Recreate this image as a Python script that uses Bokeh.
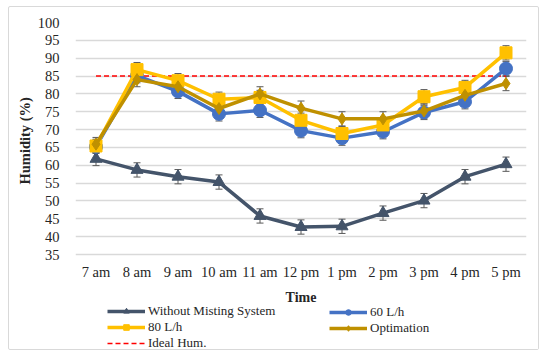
from bokeh.plotting import figure
from bokeh.models import (ColumnDataSource, Whisker, Legend, LegendItem, FixedTicker, Range1d,
                          TeeHead, Title)
from bokeh.embed import file_html
from bokeh.resources import INLINE

times = ["7 am", "8 am", "9 am", "10 am", "11 am", "12 pm", "1 pm", "2 pm", "3 pm", "4 pm", "5 pm"]
without = [61.8, 58.7, 56.8, 55.3, 45.8, 42.7, 42.9, 46.6, 50.1, 56.8, 60.3]
l60 = [65.2, 85.1, 80.7, 74.4, 75.4, 69.7, 67.6, 69.4, 74.8, 77.8, 87.1]
l80 = [65.4, 86.8, 83.7, 78.5, 79.0, 72.6, 68.9, 71.3, 79.2, 81.8, 91.5]
optim = [65.9, 84.0, 82.0, 75.9, 80.0, 76.0, 73.0, 73.0, 75.2, 79.6, 82.9]
ideal = [85] * 11
err = [1.9, 2.0, 2.0, 2.0, 2.0, 2.0, 2.0, 2.0, 2.0, 2.0, 2.0]
yticks = list(range(35, 101, 5))

FONT = "Liberation Serif"
Y_MIN, Y_MAX = 35, 100
# frame extends below the lowest tick to hold the axis and legend
ppu = 232 / (Y_MAX - Y_MIN)
frame_h = 344 - 15
y_lo = Y_MAX - frame_h / ppu

p = figure(x_range=times, y_range=Range1d(y_lo, Y_MAX), width=531, height=344,
           output_backend="svg", toolbar_location=None,
           min_border_left=66, min_border_right=14, min_border_top=15, min_border_bottom=0)
p.margin = (6, 0, 0, 8)
p.styles = {"border": "1px solid #d9d9d9", "border-radius": "2px"}
p.outline_line_color = None
p.xgrid.grid_line_color = None
p.ygrid.grid_line_color = "#d9d9d9"
p.ygrid.grid_line_width = 1.3
p.yaxis.ticker = FixedTicker(ticks=yticks)
for ax in (p.xaxis[0], p.yaxis[0]):
    ax.axis_line_color = None
    ax.major_tick_line_color = None
    ax.minor_tick_line_color = None
    ax.major_label_text_font = FONT
    ax.major_label_text_font_size = "14.5px"
    ax.major_label_text_color = "#262626"
    ax.axis_label_text_font = FONT
    ax.axis_label_text_font_style = "bold"
    ax.axis_label_text_font_size = "14px"
    ax.axis_label_text_color = "#262626"
p.xaxis.fixed_location = Y_MIN
p.xaxis.axis_label = "Time"
p.xaxis.major_label_standoff = 3
p.xaxis.axis_label_standoff = 7
p.yaxis.major_label_standoff = 10

ytitle = Title(text="Humidity (%)", align="left", offset=167, text_font=FONT, text_font_style="bold",
               text_font_size="14.5px", text_color="#262626", standoff=4)
p.add_layout(ytitle, "left")

src = ColumnDataSource(dict(t=times, without=without, l60=l60, l80=l80, optim=optim, ideal=ideal,
                            wl=[a - e for a, e in zip(without, err)], wu=[a + e for a, e in zip(without, err)],
                            al=[a - e for a, e in zip(l60, err)], au=[a + e for a, e in zip(l60, err)],
                            bl=[a - e for a, e in zip(l80, err)], bu=[a + e for a, e in zip(l80, err)],
                            cl=[a - e for a, e in zip(optim, err)], cu=[a + e for a, e in zip(optim, err)]))

r_ideal = p.line("t", "ideal", source=src, color="#ff0000", line_width=1.5, line_dash="5 3")

C_W, C_60, C_80, C_O = "#44546a", "#4472c4", "#ffc000", "#bf9000"
rw_l = p.line("t", "without", source=src, color=C_W, line_width=3.5)
rw_m = p.scatter("t", "without", source=src, marker="triangle", size=12, color=C_W)
ra_l = p.line("t", "l60", source=src, color=C_60, line_width=3.5)
ra_m = p.scatter("t", "l60", source=src, marker="circle", size=13, color=C_60)
rb_l = p.line("t", "l80", source=src, color=C_80, line_width=3.5)
rb_m = p.scatter("t", "l80", source=src, marker="square", size=12, color=C_80)
rc_l = p.line("t", "optim", source=src, color=C_O, line_width=3.5)
rc_m = p.scatter("t", "optim", source=src, marker="diamond", size=12, color=C_O)

for lo, up in (("wl", "wu"), ("al", "au"), ("bl", "bu"), ("cl", "cu")):
    w = Whisker(base="t", lower=lo, upper=up, source=src, line_color="#595959", line_width=1)
    w.upper_head = TeeHead(size=7, line_color="#595959", line_width=1)
    w.lower_head = TeeHead(size=7, line_color="#595959", line_width=1)
    p.add_layout(w)

def mk_legend(items, loc):
    lg = Legend(items=items, location=loc, orientation="vertical", spacing=0, padding=0, margin=0,
                glyph_width=38, glyph_height=14, label_height=14, label_standoff=3,
                label_text_font=FONT, label_text_font_size="13px", label_text_color="#262626",
                background_fill_alpha=0, border_line_color=None)
    p.add_layout(lg, "center")

mk_legend([LegendItem(label="Without Misting System", renderers=[rw_l, rw_m]),
           LegendItem(label="80 L/h", renderers=[rb_l, rb_m]),
           LegendItem(label="Ideal Hum.", renderers=[r_ideal])], (32, 0))
mk_legend([LegendItem(label="60 L/h", renderers=[ra_l, ra_m]),
           LegendItem(label="Optimation", renderers=[rc_l, rc_m])], (254, 15))

open("out.html", "w").write(file_html(p, INLINE))
